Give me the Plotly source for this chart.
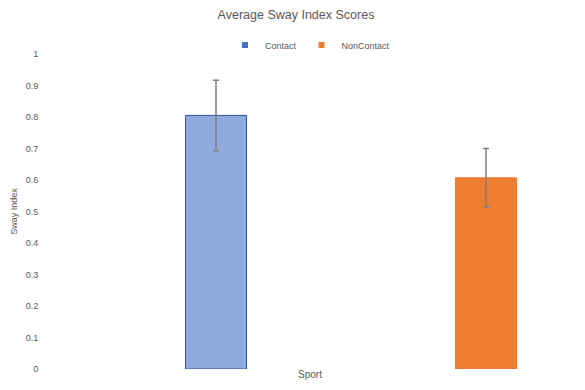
import plotly.graph_objects as go

categories = ["Contact", "NonContact"]
means = [0.805, 0.607]
errors = [0.112, 0.093]
bar_fill = ["#8FAADC", "#ED7D31"]
bar_line = ["#2F5597", "#ED7D31"]
legend_colors = ["#4472C4", "#ED7D31"]
ytick_vals = [0, 0.1, 0.2, 0.3, 0.4, 0.5, 0.6, 0.7, 0.8, 0.9, 1]
ytick_text = ["0", "0.1", "0.2", "0.3", "0.4", "0.5", "0.6", "0.7", "0.8", "0.9", "1"]

fig = go.Figure()
for i, c in enumerate(categories):
    fig.add_trace(go.Bar(
        x=[c], y=[means[i]], width=0.226, showlegend=False,
        marker=dict(color=bar_fill[i], line=dict(color=bar_line[i], width=1)),
        error_y=dict(type="data", array=[errors[i]], visible=True,
                     color="#7F7F7F", thickness=1.5, width=3),
    ))
for i, c in enumerate(categories):
    fig.add_trace(go.Scatter(x=[None], y=[None], name=c, mode="markers",
                             marker=dict(color=legend_colors[i], symbol="square", size=6)))

font_family = "Liberation Sans, Arial, sans-serif"
fig.update_layout(
    width=577, height=382,
    margin=dict(l=37, r=10, t=46, b=21),
    paper_bgcolor="white", plot_bgcolor="white",
    barmode="overlay",
    font=dict(family=font_family, color="#595959", size=9),
    title=dict(text="Average Sway Index Scores", x=(296 - 8) / 577, xref="container", xanchor="center",
               y=1 - 7 / 382, yref="container", yanchor="middle",
               font=dict(size=12.5, color="#595959")),
    legend=dict(orientation="h", x=0.5, xanchor="center", y=1.0286, yanchor="middle",
                font=dict(size=9, color="#595959"), itemwidth=30, tracegroupgap=0,
                bgcolor="rgba(0,0,0,0)"),
    xaxis=dict(type="category", range=[-0.6333, 1.3296], showticklabels=False,
               showgrid=False, zeroline=False, showline=False, ticks="",
               title=dict(text="Sport", standoff=1, font=dict(size=10, color="#595959")),
               automargin=False),
    yaxis=dict(range=[0, 1], tickvals=ytick_vals, ticktext=ytick_text,
               showgrid=False, zeroline=False, showline=False,
               ticks="outside", ticklen=4, tickcolor="rgba(0,0,0,0)",
               tickfont=dict(size=9, color="#595959"),
               title=dict(text="Sway Index", standoff=6, font=dict(size=9, color="#595959")),
               automargin=False),
)

fig.write_html("out.html")
